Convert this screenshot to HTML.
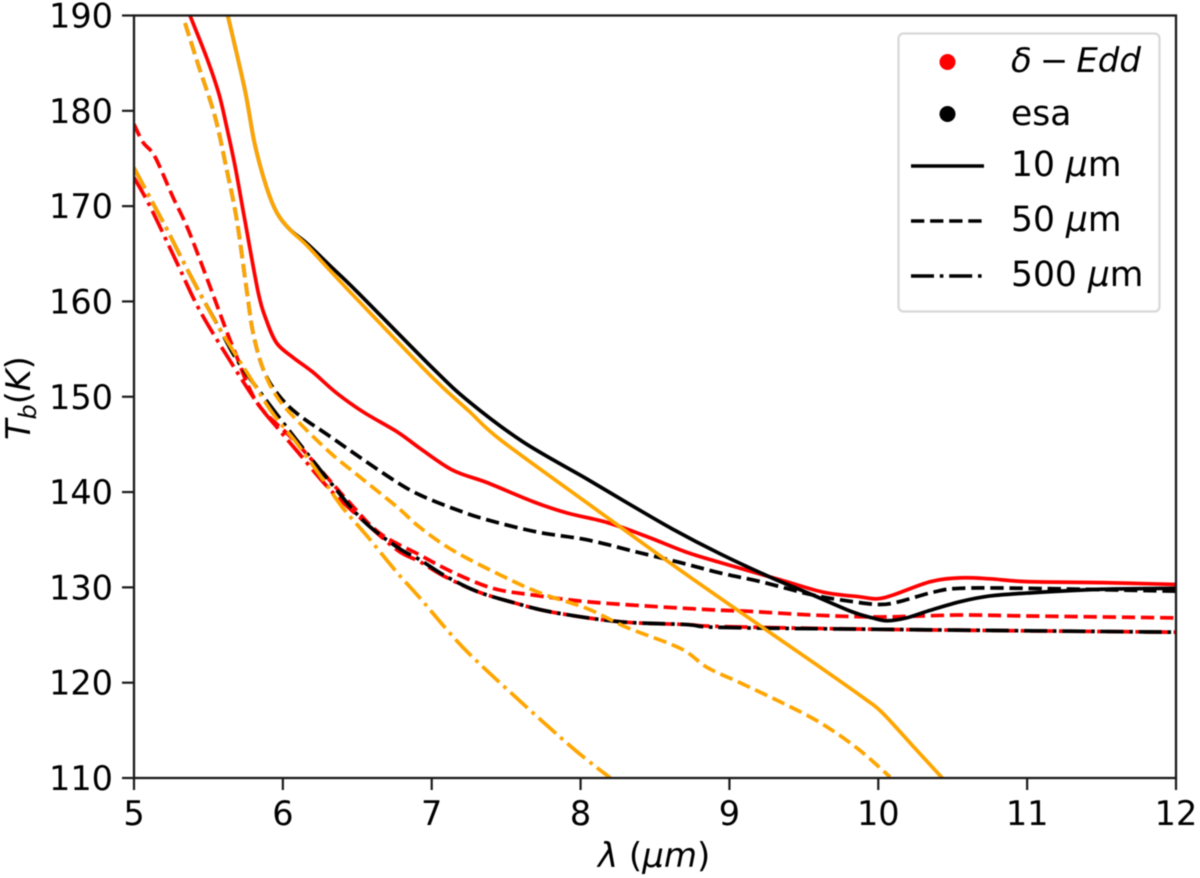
<!DOCTYPE html>
<html lang="en">
<head>
<meta charset="utf-8">
<title>Brightness temperature vs wavelength</title>
<style>
html,body{margin:0;padding:0;background:#fff;width:1200px;height:878px;overflow:hidden}
svg{display:block;filter:blur(0.45px)}
text{font-family:"DejaVu Sans",sans-serif;fill:#000}
.tick-text{font-size:33.5px}
.math{font-style:oblique}
</style>
</head>
<body>
<svg id="chart" xmlns="http://www.w3.org/2000/svg" width="1200" height="878" viewBox="0 0 1200 878">
  <defs><clipPath id="plot-clip"><rect x="134" y="15.5" width="1042" height="762.5"/></clipPath></defs>
  <rect x="0" y="0" width="1200" height="878" fill="#fff"/>
  <g id="series" clip-path="url(#plot-clip)" fill="none"></g>
  <g id="ticks"></g>
  <rect x="134" y="15.5" width="1042" height="762.5" fill="none" stroke="#1a1a1a" stroke-width="2.3"/>
  <text x="598" y="867" font-size="34"><tspan class="math">λ</tspan> (<tspan class="math">μm</tspan>)</text>
  <text transform="translate(30,440) rotate(-90)" font-size="33.5"><tspan class="math">T</tspan><tspan class="math" font-size="24" dy="6">b</tspan><tspan dy="-6">(</tspan><tspan class="math">K</tspan>)</text>
  <g>
    <rect x="898.5" y="33.5" width="261" height="278" rx="5" fill="#fff" fill-opacity="0.9" stroke="#d9d9d9" stroke-width="2.3"/>
    <g>
      <circle cx="947.5" cy="62" r="8" fill="#ff0000"/>
      <text x="1011" y="72" font-size="34" word-spacing="-2.8"><tspan class="math">δ</tspan> − <tspan class="math">Edd</tspan></text>
    </g>
    <g>
      <circle cx="947.5" cy="114" r="8" fill="#000"/>
      <text x="1011" y="125" font-size="34.5">esa</text>
    </g>
    <g>
      <line x1="911" x2="984" y1="166" y2="166" stroke="#000" stroke-width="3.6"/>
      <text x="1011" y="176" font-size="34.5">10 <tspan class="math">μ</tspan>m</text>
    </g>
    <g>
      <line x1="911" x2="984" y1="221" y2="221" stroke="#000" stroke-width="3.6" stroke-dasharray="13.3 5.8"/>
      <text x="1011" y="231" font-size="34.5">50 <tspan class="math">μ</tspan>m</text>
    </g>
    <g>
      <line x1="911" x2="984" y1="276" y2="276" stroke="#000" stroke-width="3.6" stroke-dasharray="23 5.8 3.6 5.8"/>
      <text x="1011" y="286" font-size="34.5">500 <tspan class="math">μ</tspan>m</text>
    </g>
  </g>
</svg>
<script>
const xTickLabels = [5, 6, 7, 8, 9, 10, 11, 12];
const yTickLabels = [110, 120, 130, 140, 150, 160, 170, 180, 190];

const redSolidLambda = [5.376,5.49,5.57,5.62,5.68,5.745,5.835,5.89,5.96,6.07,6.2,6.36,6.54,6.77,6.92,7.14,7.37,7.68,7.91,8.18,8.45,8.71,8.94,9.34,9.63,9.88,9.99,10.1,10.35,10.55,10.75,11,11.5,12];
const redSolidTemp = [190,185.5,181.8,178.5,174.1,168.5,160.9,158,155.6,154.1,152.6,150.4,148.4,146.3,144.6,142.3,141,139,137.8,136.8,135.3,133.7,132.6,130.8,129.5,129,128.8,129.2,130.6,131,130.9,130.6,130.5,130.3];

const redDashedLambda = [5,5.06,5.14,5.26,5.365,5.5,5.6,5.67,5.83,6.09,6.43,6.65,6.92,7.14,7.41,7.68,8.04,8.49,8.94,9.12,9.56,10.01,10.55,11,12];
const redDashedTemp = [178.6,176.7,175.2,171,167.5,162,157.8,155,149.3,145.2,139.2,135.7,133.4,131.6,129.9,129.2,128.5,128,127.6,127.5,127.1,126.9,127.1,127,126.8];

const redDashdotLambda = [5,5.11,5.29,5.44,5.64,5.83,5.96,6.09,6.32,6.54,6.77,6.92,7.08,7.3,7.55,7.81,8.26,8.71,8.94,10,12];
const redDashdotTemp = [173,169.9,164,159.1,153.9,149.3,146.8,144.4,140.2,137,133.9,132.7,131.2,129.6,128.4,127.4,126.4,126.1,125.9,125.6,125.3];

const blackSolidLambda = [5.63,5.745,5.81,5.89,5.96,6.05,6.16,6.32,6.5,7,7.25,7.61,8.04,8.31,8.62,8.94,9.27,9.56,9.83,9.96,10.06,10.19,10.35,10.55,10.75,11,11.5,12];
const blackSolidTemp = [190,182.2,176.6,172,169.3,167.5,166.1,163.7,161,153.1,149.5,145.3,141.4,138.9,136.1,133.5,131.1,129.2,127.4,126.8,126.5,126.8,127.6,128.5,129.1,129.4,129.8,129.9];

const blackDashedLambda = [5.343,5.432,5.544,5.623,5.69,5.757,5.8,5.87,5.96,6.09,6.32,6.54,6.77,6.92,7.14,7.37,7.71,8.04,8.38,8.67,8.94,9.21,9.56,9.83,10.01,10.14,10.37,10.55,11,12];
const blackDashedTemp = [189.2,184.8,179.4,173.8,168.6,161.2,156.7,152.8,150.4,148.3,145.8,143.4,141,139.7,138.3,137.1,135.8,135,133.7,132.6,131.5,130.6,129.2,128.5,128.2,128.5,129.5,129.9,129.9,129.6];

const blackDashdotLambda = [5,5.11,5.22,5.33,5.455,5.58,5.69,5.87,6.09,6.32,6.54,6.77,6.92,7.08,7.3,7.55,7.81,8.26,8.71,8.94,10,12];
const blackDashdotTemp = [174,170.8,167.6,164.2,160.5,157,153.9,150,145.5,141,137,134.2,132.9,131.3,129.6,128.4,127.4,126.4,126.1,125.8,125.6,125.3];

const orangeSolidLambda = [5.63,5.745,5.81,5.89,5.96,6.05,6.16,6.32,6.5,7,7.25,7.46,8.04,8.67,9.25,9.63,9.92,10.03,10.23,10.43];
const orangeSolidTemp = [190,182.2,176.6,172,169.3,167.5,165.9,163.2,160.2,152.1,148.5,145.5,138.9,131.8,125.5,121.4,118.2,116.8,113.4,110];

const orangeDashedLambda = [5.343,5.432,5.544,5.623,5.69,5.757,5.8,5.87,5.96,6.09,6.32,6.54,6.77,6.92,7.14,7.46,7.73,8.04,8.31,8.67,8.85,9.07,9.34,9.61,9.86,10.08];
const orangeDashedTemp = [189.2,184.8,179.4,173.8,168.6,161.2,156.7,152.8,150,147.6,144.1,141.3,138.4,136.3,133.9,131.3,129.4,127.8,125.8,123.6,121.6,120,118,115.8,113.1,110.1];

const orangeDashdotLambda = [5,5.11,5.22,5.33,5.455,5.58,5.76,5.93,6.09,6.27,6.4,6.57,6.77,6.92,7.21,7.57,7.95,8.2];
const orangeDashdotTemp = [174,170.8,167.6,164.2,160.5,157,152.5,148.3,145.2,141.3,138.4,135.3,131.5,128.9,123.7,118.4,113.1,110];

const SVG_NS = 'http://www.w3.org/2000/svg';
const xScale = v => 134 + (v - 5) * (1042 / 7);
const yScale = v => 778 - (v - 110) * (762.5 / 80);

function smoothPath(xs, ys) {
  const p = xs.map((x, i) => [xScale(x), yScale(ys[i])]);
  let d = 'M' + p[0][0].toFixed(2) + ' ' + p[0][1].toFixed(2);
  for (let i = 0; i < p.length - 1; i++) {
    const a = p[Math.max(i - 1, 0)], b = p[i], c = p[i + 1], e = p[Math.min(i + 2, p.length - 1)];
    const c1x = b[0] + (c[0] - a[0]) / 6, c1y = b[1] + (c[1] - a[1]) / 6;
    const c2x = c[0] - (e[0] - b[0]) / 6, c2y = c[1] - (e[1] - b[1]) / 6;
    d += 'C' + c1x.toFixed(2) + ' ' + c1y.toFixed(2) + ' ' + c2x.toFixed(2) + ' ' + c2y.toFixed(2) + ' ' + c[0].toFixed(2) + ' ' + c[1].toFixed(2);
  }
  return d;
}

const DASH = '13.3 5.8';
const DASHDOT = '23 5.8 3.6 5.8';
const seriesGroup = document.getElementById('series');
const tickGroup = document.getElementById('ticks');

function addSeries(name, xs, ys, color, dash) {
  const path = document.createElementNS(SVG_NS, 'path');
  
  
  path.setAttribute('d', smoothPath(xs, ys));
  path.setAttribute('stroke', color);
  path.setAttribute('stroke-width', '3.7');
  path.setAttribute('stroke-linejoin', 'round');
  if (dash) path.setAttribute('stroke-dasharray', dash);
  seriesGroup.appendChild(path);
}

addSeries('line-delta-edd-10um', redSolidLambda, redSolidTemp, '#ff0000', null);
addSeries('line-delta-edd-50um', redDashedLambda, redDashedTemp, '#ff0000', DASH);
addSeries('line-delta-edd-500um', redDashdotLambda, redDashdotTemp, '#ff0000', DASHDOT);
addSeries('line-esa-10um', blackSolidLambda, blackSolidTemp, '#000000', null);
addSeries('line-esa-50um', blackDashedLambda, blackDashedTemp, '#000000', DASH);
addSeries('line-esa-500um', blackDashdotLambda, blackDashdotTemp, '#000000', DASHDOT);
addSeries('line-orange-10um', orangeSolidLambda, orangeSolidTemp, '#ffa500', null);
addSeries('line-orange-50um', orangeDashedLambda, orangeDashedTemp, '#ffa500', DASH);
addSeries('line-orange-500um', orangeDashdotLambda, orangeDashdotTemp, '#ffa500', DASHDOT);

xTickLabels.forEach(v => {
  const x = xScale(v);
  const mark = document.createElementNS(SVG_NS, 'line');
  
  
  mark.setAttribute('x1', x);
  mark.setAttribute('x2', x);
  mark.setAttribute('y1', 778);
  mark.setAttribute('y2', 790);
  mark.setAttribute('stroke', '#1a1a1a');
  mark.setAttribute('stroke-width', '2.2');
  tickGroup.appendChild(mark);
  const label = document.createElementNS(SVG_NS, 'text');
  
  
  label.setAttribute('class', 'tick-text');
  label.setAttribute('x', x);
  label.setAttribute('y', 825);
  label.setAttribute('text-anchor', 'middle');
  label.textContent = v;
  tickGroup.appendChild(label);
});

yTickLabels.forEach(v => {
  const y = yScale(v);
  const mark = document.createElementNS(SVG_NS, 'line');
  
  
  mark.setAttribute('x1', 122);
  mark.setAttribute('x2', 134);
  mark.setAttribute('y1', y);
  mark.setAttribute('y2', y);
  mark.setAttribute('stroke', '#1a1a1a');
  mark.setAttribute('stroke-width', '2.2');
  tickGroup.appendChild(mark);
  const label = document.createElementNS(SVG_NS, 'text');
  
  
  label.setAttribute('class', 'tick-text');
  label.setAttribute('x', 113);
  label.setAttribute('y', y + 12);
  label.setAttribute('text-anchor', 'end');
  label.textContent = v;
  tickGroup.appendChild(label);
});
</script>
</body>
</html>
